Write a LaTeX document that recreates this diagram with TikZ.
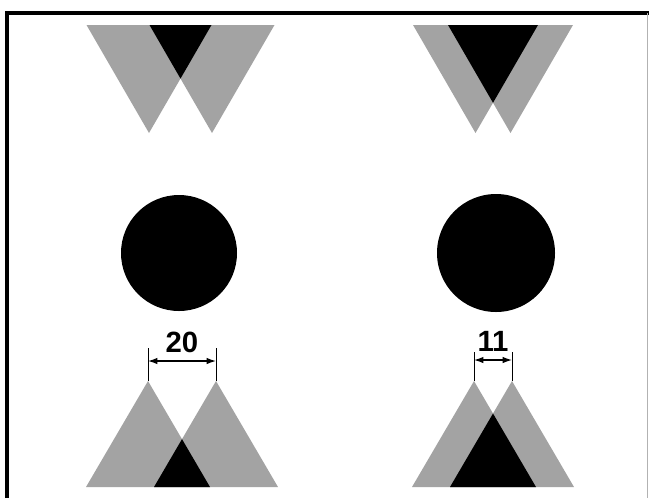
\documentclass[tikz,border=0pt]{standalone}
\usepackage{fontspec}
\setsansfont{Liberation Sans}
\usetikzlibrary{positioning}
\usetikzlibrary{arrows}
\usetikzlibrary{arrows.meta}
\definecolor{trigray}{RGB}{163,163,163}
\tikzset{
  graytri/.style={fill=trigray},
  blacktri/.style={fill=black},
  disc/.style={circle, fill=black, inner sep=0pt},
  extline/.style={line width=0.7pt},
  dimline/.style={{Latex[length=8pt,width=5.5pt]}-{Latex[length=8pt,width=5.5pt]}, line width=1pt},
  dimlabel/.style={font=\sffamily\bfseries\fontsize{25}{28}\selectfont, inner sep=0pt}
}

\begin{document}
\begin{tikzpicture}[x=0.03cm, y=-0.03cm, >=latex]
    \useasboundingbox (0,0) rectangle (649,498);
    % frame
    \draw[line width=3pt] (7,498) -- (7,13) -- (649,13);
    \draw[line width=0.4pt, black!30] (647.5,13) -- (647.5,498);

    % top row
    \fill[graytri] (86.5,25) -- (211.5,25) -- (149,133) -- cycle;
    \fill[graytri] (149.5,25) -- (274.5,25) -- (212,133) -- cycle;
    \fill[blacktri] (149.5,25) -- (211.5,25) -- (180.5,78.6) -- cycle;
    \fill[graytri] (413,25) -- (538,25) -- (475.5,133) -- cycle;
    \fill[graytri] (448,25) -- (573,25) -- (510.5,133) -- cycle;
    \fill[blacktri] (448,25) -- (538,25) -- (493,102.8) -- cycle;

    % middle row
    \node[disc, minimum size=116*0.03cm] (discL) at (179,253) {};
    \node[disc, minimum size=118*0.03cm] (discR) at (496,253) {};

    % bottom row
    \fill[graytri] (86,487) -- (210,487) -- (148,381) -- cycle;
    \fill[graytri] (154,487) -- (278,487) -- (216,381) -- cycle;
    \fill[blacktri] (154,487) -- (210,487) -- (182,439.1) -- cycle;
    \fill[graytri] (412,487) -- (536,487) -- (474,381) -- cycle;
    \fill[graytri] (450,487) -- (574,487) -- (512,381) -- cycle;
    \fill[blacktri] (450,487) -- (536,487) -- (493,413.5) -- cycle;

    % dimensions
    \coordinate (apexLa) at (148,381);
    \coordinate (apexLb) at (216,381);
    \coordinate (extLa) at (148,348);
    \coordinate (extLb) at (216,348);
    \draw[extline] (apexLa) -- (extLa);
    \draw[extline] (apexLb) -- (extLb);
    \draw[dimline] ([yshift=-13*0.03cm]extLa) -- ([yshift=-13*0.03cm]extLb);
    \node[dimlabel] (gapL) at (182,342) {20};

    \coordinate (apexRa) at (474,381);
    \coordinate (apexRb) at (512,381);
    \coordinate (extRa) at (474,352);
    \coordinate (extRb) at (512,352);
    \draw[extline] (apexRa) -- (extRa);
    \draw[extline] (apexRb) -- (extRb);
    \draw[dimline] ([yshift=-8*0.03cm]extRa) -- ([yshift=-8*0.03cm]extRb);
    \node[dimlabel] (gapR) at (493,341) {11};
\end{tikzpicture}
\end{document}
